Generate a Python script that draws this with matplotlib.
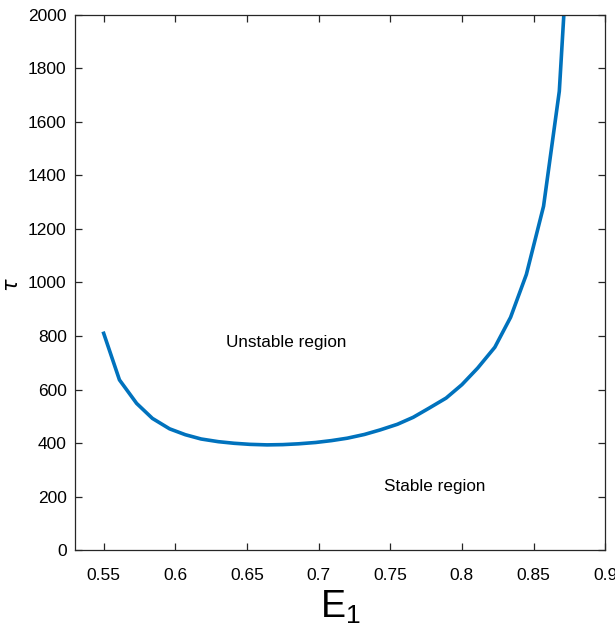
import matplotlib
matplotlib.use("Agg")
import matplotlib.pyplot as plt

# E1 values and the stability boundary tau
e1 = [0.550, 0.561, 0.573, 0.584, 0.596, 0.607, 0.618, 0.630, 0.641, 0.652,
      0.664, 0.675, 0.686, 0.698, 0.709, 0.720, 0.732, 0.743, 0.755, 0.766,
      0.777, 0.789, 0.800, 0.811, 0.823, 0.834, 0.845, 0.857, 0.868, 0.880]
tau = [810, 636, 548, 492, 453, 431, 415, 405, 399, 395,
       393, 394, 397, 402, 409, 418, 432, 449, 470, 496,
       530, 568, 618, 680, 758, 870, 1030, 1285, 1715, 2800]

xticks = [0.55, 0.6, 0.65, 0.7, 0.75, 0.8, 0.85, 0.9]
xticklabels = ["0.55", "0.6", "0.65", "0.7", "0.75", "0.8", "0.85", "0.9"]
yticks = [0, 200, 400, 600, 800, 1000, 1200, 1400, 1600, 1800, 2000]

plt.rcParams['font.family'] = ['Liberation Sans', 'DejaVu Sans']
plt.rcParams['mathtext.fontset'] = 'custom'
plt.rcParams['mathtext.rm'] = 'Liberation Sans'

fig = plt.figure(figsize=(6.15, 6.4), dpi=100)
ax = fig.add_axes([0.122, 0.1406, 0.862, 0.836])

ax.plot(e1, tau, color="#0072BD", linewidth=2.6)

ax.set_xlim(0.53, 0.9)
ax.set_ylim(0, 2000)
ax.set_xticks(xticks)
ax.set_xticklabels(xticklabels)
ax.set_yticks(yticks)

for s in ax.spines.values():
    s.set_color("#262626")
    s.set_linewidth(0.9)
ax.tick_params(direction="in", length=5, width=0.9, colors="#262626",
               labelcolor="#000000", labelsize=12.5, top=True, right=True)
ax.tick_params(axis="x", pad=13)
ax.tick_params(axis="y", pad=6)

ax.text(0.6774, 774, "Unstable region", fontsize=12.3, ha="center", va="center")
ax.text(0.781, 236, "Stable region", fontsize=12.3, ha="center", va="center")

ax.set_xlabel(r"E$_\mathregular{1}$", fontsize=27, labelpad=4)
ax.set_ylabel(r"$\tau$", fontsize=15)
ax.yaxis.set_label_coords(-0.1, 0.495)

fig.savefig("out.png", dpi=100)
